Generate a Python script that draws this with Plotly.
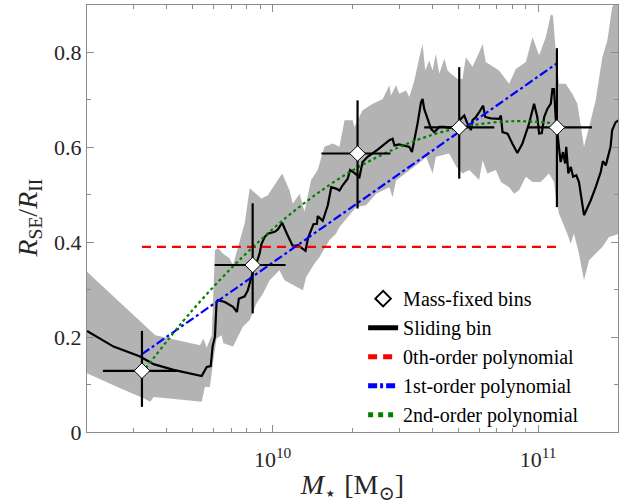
import numpy as np
import plotly.graph_objects as go

# ---- data (log10 of stellar mass, ratio) ----
slide_logm = [9.301, 9.401, 9.501, 9.552, 9.627, 9.733, 9.752, 9.767, 9.774, 9.783, 9.789, 9.794,
              9.820, 9.851, 9.866, 9.873, 9.895, 9.907, 9.914, 9.926, 9.939, 9.951, 9.958, 9.970,
              9.982, 10.008, 10.020, 10.036, 10.054, 10.076, 10.095, 10.124, 10.133, 10.145, 10.154,
              10.167, 10.170, 10.189, 10.208, 10.221, 10.239, 10.252, 10.264, 10.283, 10.292, 10.308,
              10.327, 10.339, 10.358, 10.396, 10.415, 10.440, 10.452, 10.459, 10.477, 10.515, 10.525,
              10.534, 10.546, 10.559, 10.565, 10.571, 10.584, 10.597, 10.609, 10.628, 10.647, 10.665,
              10.691, 10.709, 10.722, 10.734, 10.743, 10.747, 10.753, 10.766, 10.778, 10.793, 10.801,
              10.822, 10.853, 10.860, 10.866, 10.885, 10.903, 10.922, 10.941, 10.966, 10.985, 10.997,
              11.004, 11.014, 11.023, 11.035, 11.048, 11.054, 11.060, 11.067, 11.073, 11.079, 11.085,
              11.094, 11.102, 11.106, 11.114, 11.123, 11.132, 11.144, 11.154, 11.173, 11.198, 11.217,
              11.236, 11.244, 11.255, 11.273, 11.279, 11.292, 11.305]
slide_ratio = [0.213, 0.180, 0.159, 0.143, 0.131, 0.118, 0.137, 0.139, 0.180, 0.201, 0.274, 0.278,
               0.274, 0.264, 0.253, 0.281, 0.286, 0.299, 0.314, 0.337, 0.355, 0.376, 0.396, 0.411,
               0.418, 0.422, 0.427, 0.441, 0.418, 0.392, 0.394, 0.382, 0.408, 0.425, 0.438,
               0.439, 0.455, 0.445, 0.478, 0.516, 0.513, 0.509, 0.520, 0.534, 0.552, 0.546,
               0.537, 0.569, 0.580, 0.595, 0.604, 0.615, 0.618, 0.604, 0.606, 0.601, 0.590,
               0.615, 0.650, 0.695, 0.702, 0.681, 0.660, 0.639, 0.632, 0.643, 0.643, 0.641,
               0.644, 0.660, 0.667, 0.650, 0.643, 0.636, 0.657, 0.664, 0.674, 0.688, 0.664,
               0.661, 0.660, 0.667, 0.632, 0.629, 0.608, 0.588, 0.608, 0.650, 0.692, 0.664,
               0.629, 0.630, 0.664, 0.681, 0.692, 0.723, 0.723, 0.657, 0.629, 0.601, 0.569,
               0.590, 0.566, 0.601, 0.545, 0.559, 0.538, 0.541, 0.527, 0.457, 0.488, 0.516,
               0.548, 0.571, 0.562, 0.601, 0.636, 0.653, 0.657]

band_hi_logm = [9.301, 9.558, 9.727, 9.739, 9.752, 9.771, 9.783, 9.796, 9.813, 9.838, 9.851, 9.876,
                9.895, 9.914, 9.958, 9.982, 10.036, 10.064, 10.076, 10.102, 10.120, 10.145, 10.170,
                10.195, 10.227, 10.252, 10.271, 10.302, 10.308, 10.339, 10.377, 10.415, 10.440,
                10.446, 10.465, 10.477, 10.503, 10.515, 10.534, 10.553, 10.565, 10.575, 10.590,
                10.603, 10.615, 10.628, 10.647, 10.659, 10.672, 10.697, 10.715, 10.728, 10.753,
                10.778, 10.791, 10.803, 10.853, 10.891, 10.916, 10.954, 10.979, 11.004, 11.029,
                11.048, 11.056, 11.067, 11.079, 11.104, 11.129, 11.148, 11.173, 11.192, 11.217,
                11.242, 11.261, 11.279, 11.305]
band_hi = [0.338, 0.204, 0.183, 0.197, 0.178, 0.204, 0.383, 0.387, 0.376, 0.366, 0.352, 0.400,
           0.440, 0.514, 0.492, 0.499, 0.545, 0.509, 0.481, 0.502, 0.464, 0.531, 0.552,
           0.601, 0.608, 0.601, 0.657, 0.657, 0.643, 0.678, 0.692, 0.702, 0.731,
           0.709, 0.731, 0.713, 0.720, 0.706, 0.741, 0.790, 0.818, 0.762, 0.783,
           0.762, 0.797, 0.755, 0.787, 0.762, 0.755, 0.744, 0.744, 0.790, 0.770,
           0.800, 0.818, 0.780, 0.762, 0.734, 0.765, 0.780, 0.832, 0.794, 0.832,
           0.880, 0.878, 0.800, 0.734, 0.734, 0.713, 0.692, 0.601, 0.643, 0.699,
           0.790, 0.825, 0.895, 0.920]

band_lo_logm = [9.301, 9.426, 9.514, 9.539, 9.552, 9.602, 9.733, 9.745, 9.764, 9.777, 9.789, 9.808,
                9.815, 9.851, 9.888, 9.914, 9.939, 9.964, 9.989, 10.026, 10.045, 10.070, 10.114,
                10.127, 10.158, 10.177, 10.214, 10.239, 10.252, 10.315, 10.352, 10.390, 10.440,
                10.452, 10.465, 10.565, 10.578, 10.603, 10.615, 10.665, 10.691, 10.715, 10.741,
                10.778, 10.791, 10.809, 10.841, 10.860, 10.891, 10.910, 10.929, 10.954, 10.979,
                11.010, 11.041, 11.060, 11.067, 11.079, 11.091, 11.110, 11.123, 11.135, 11.154,
                11.173, 11.192, 11.217, 11.242, 11.267, 11.292, 11.305]
band_lo = [0.124, 0.092, 0.071, 0.064, 0.074, 0.071, 0.064, 0.095, 0.095, 0.152, 0.197, 0.204,
           0.187, 0.180, 0.222, 0.236, 0.271, 0.292, 0.320, 0.341, 0.320, 0.313, 0.299,
           0.327, 0.355, 0.369, 0.404, 0.418, 0.432, 0.474, 0.478, 0.502, 0.516,
           0.495, 0.530, 0.573, 0.580, 0.545, 0.580, 0.587, 0.560, 0.545, 0.552,
           0.531, 0.573, 0.545, 0.552, 0.527, 0.516, 0.502, 0.510, 0.538, 0.527,
           0.527, 0.545, 0.527, 0.495, 0.460, 0.446, 0.418, 0.397, 0.418, 0.376,
           0.320, 0.362, 0.376, 0.390, 0.411, 0.415, 0.418]

bin_logm = [9.508, 9.925, 10.320, 10.703, 11.071]
bin_logm_lo = [9.361, 9.782, 10.184, 10.571, 10.959]
bin_logm_hi = [9.639, 10.049, 10.444, 10.835, 11.203]
bin_ratio = [0.129, 0.352, 0.587, 0.642, 0.642]
bin_ratio_lo = [0.053, 0.250, 0.471, 0.534, 0.474]
bin_ratio_hi = [0.213, 0.482, 0.699, 0.769, 0.809]

poly0_logm = [9.508, 11.071]
poly0 = [0.390, 0.390]
poly1_logm = [9.508, 11.071]
poly1 = [0.164, 0.777]
poly2_logm = [9.508, 9.7, 9.9, 10.1, 10.3, 10.5, 10.7, 10.9, 11.071]
poly2 = [0.124, 0.258, 0.376, 0.474, 0.551, 0.606, 0.641, 0.655, 0.650]

# ---- figure ----
def m(v):
    return 10 ** np.asarray(v, dtype=float)

fig = go.Figure()

fig.add_trace(go.Scatter(
    x=np.concatenate([m(band_hi_logm), m(band_lo_logm)[::-1]]),
    y=np.concatenate([band_hi, band_lo[::-1]]),
    fill="toself", fillcolor="#b3b3b3", line=dict(width=0), mode="lines",
    hoverinfo="skip", showlegend=False))

fig.add_trace(go.Scatter(x=m(slide_logm), y=slide_ratio, mode="lines",
                         line=dict(color="black", width=2.2), name="Sliding bin", legendrank=2))

fig.add_trace(go.Scatter(x=m(poly0_logm), y=poly0, mode="lines",
                         line=dict(color="#ff0000", width=2.2, dash="9px,6px"),
                         name="0th-order polynomial", legendrank=3))
fig.add_trace(go.Scatter(x=m(poly1_logm), y=poly1, mode="lines",
                         line=dict(color="#0000ff", width=2.2, dash="9px,3px,3px,3px"),
                         name="1st-order polynomial", legendrank=4))
fig.add_trace(go.Scatter(x=m(poly2_logm), y=poly2, mode="lines", line_shape="spline",
                         line=dict(color="#008000", width=2.2, dash="dot"),
                         name="2nd-order polynomial", legendrank=5))

bx = m(bin_logm)
fig.add_trace(go.Scatter(
    x=bx, y=bin_ratio, mode="markers", marker=dict(size=1, color="rgba(0,0,0,0)"),
    error_x=dict(type="data", symmetric=False,
                 array=m(bin_logm_hi) - bx, arrayminus=bx - m(bin_logm_lo),
                 color="black", thickness=2.2, width=0),
    error_y=dict(type="data", symmetric=False,
                 array=np.array(bin_ratio_hi) - np.array(bin_ratio),
                 arrayminus=np.array(bin_ratio) - np.array(bin_ratio_lo),
                 color="black", thickness=2.2, width=0),
    showlegend=False, hoverinfo="skip"))
fig.add_trace(go.Scatter(x=bx, y=bin_ratio, mode="markers",
                         marker=dict(symbol="diamond", size=12, color="white",
                                     line=dict(color="black", width=1)),
                         name="Mass-fixed bins", legendrank=1))

font_family = "Liberation Serif, Times New Roman, Times, DejaVu Serif, serif"
axis_common = dict(showline=True, linecolor="#8c8c8c", linewidth=1, mirror="allticks",
                   ticks="inside", ticklen=7, tickcolor="#8c8c8c", showgrid=False,
                   zeroline=False, automargin=False,
                   tickfont=dict(family=font_family, size=22, color="#262626"))

minor_x = [2e9, 3e9, 4e9, 5e9, 6e9, 7e9, 8e9, 9e9,
           2e10, 3e10, 4e10, 5e10, 6e10, 7e10, 8e10, 9e10, 2e11]

fig.update_layout(
    width=625, height=504,
    margin=dict(l=87, r=7, t=5, b=72, autoexpand=False),
    paper_bgcolor="white", plot_bgcolor="white",
    font=dict(family=font_family, color="#262626"),
    showlegend=True,
    legend=dict(x=0.52, y=-0.005, xanchor="left", yanchor="bottom",
                bgcolor="rgba(0,0,0,0)", borderwidth=0, itemsizing="constant",
                font=dict(family=font_family, size=20, color="#000000"), tracegroupgap=0),
    xaxis=dict(type="log", range=[np.log10(2e9), np.log10(2e11)],
               tickvals=[1e10, 1e11], ticktext=["10<sup>10</sup>", "10<sup>11</sup>"],
               ticklabelstandoff=8,
               minor=dict(tickvals=minor_x, ticks="inside", ticklen=4, tickcolor="#8c8c8c"),
               title=dict(text="<i>M</i><sub>⋆</sub> [M<sub>⊙</sub>]",
                          font=dict(family=font_family, size=28, color="#262626")),
               **axis_common),
    yaxis=dict(range=[0, 0.9], tickvals=[0, 0.2, 0.4, 0.6, 0.8],
               ticktext=["0", "0.2", "0.4", "0.6", "0.8"],
               minor=dict(tickvals=[0.1, 0.3, 0.5, 0.7], ticks="inside", ticklen=4, tickcolor="#8c8c8c"),
               **axis_common),
    annotations=[dict(text="<i>R</i><sub>SE</sub>/<i>R</i><sub>II</sub>",
                      xref="paper", yref="paper", x=-0.109, y=0.5,
                      xanchor="center", yanchor="middle", textangle=-90, showarrow=False,
                      font=dict(family=font_family, size=28, color="#262626"))],
)

fig.write_html("out.html", config={"displayModeBar": False},
               post_script="document.body.style.margin='0';")
